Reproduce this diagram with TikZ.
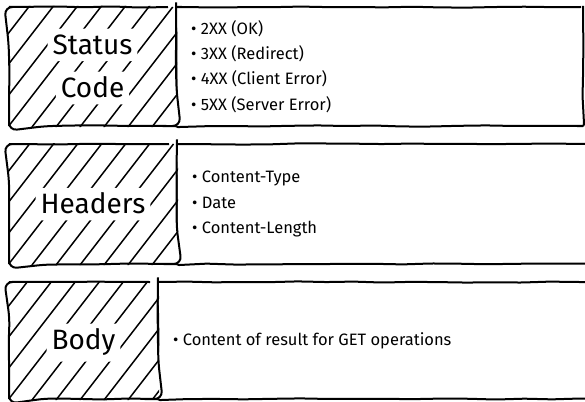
\documentclass[tikz,border=0pt]{standalone}
\usepackage{fontspec}
\setmainfont{Fira Sans}
\usetikzlibrary{decorations.pathmorphing}
\begin{document}
\begin{tikzpicture}[x=1pt,y=-1pt,
 sketch/.style={draw=black, line width=2pt, decorate, decoration={random steps, segment length=28pt, amplitude=0.6pt}, rounded corners=2pt},
 listbox/.style={sketch, anchor=north west, inner sep=0pt},
 titlebox/.style={sketch, fill=white, anchor=north west, inner sep=0pt, rounded corners=8pt},
 hatch/.style={line width=1.5pt, line cap=round, black},
 titletext/.style={fill=white, inner xsep=5pt, inner ysep=6pt, rounded corners=4pt, text height=20pt, text depth=0.5pt, font=\fontsize{28}{42}\selectfont},
 listtext/.style={anchor=west, align=left, inner sep=0pt, font=\fontsize{16.5}{25.3}\selectfont}
]
\pgfmathsetseed{7}
\clip (0,0) rectangle (585,401);
% row 1
\node[listbox, minimum width=407pt, minimum height=119pt] (r1) at (175,6) {};
\node[titlebox, minimum width=167pt, minimum height=119pt] (t1) at (8,6) {};
% row 2
\node[listbox, minimum width=430pt, minimum height=120pt] (r2) at (176,143) {};
\node[titlebox, minimum width=168pt, minimum height=120pt] (t2) at (8,143) {};
% row 3
\node[listbox, minimum width=450pt, minimum height=117pt] (r3) at (157,281) {};
\node[titlebox, minimum width=149pt, minimum height=117pt] (t3) at (8,281) {};
% hatching
\foreach \n in {t1,t2,t3}{
  \begin{scope}
    \clip[rounded corners=8pt] (\n.south west) rectangle (\n.north east);
    \foreach \k in {-9,...,8}{
      \draw[hatch] ([xshift=\k*24pt]\n.south west) -- ++(170pt,220pt);
    }
  \end{scope}
}
% titles
\node[titletext] (t1a) at ([yshift=21.5pt]t1.center) {Status};
\node[titletext] (t1b) at ([yshift=-21.5pt]t1.center) {Code};
\node[titletext] (t2l) at (t2.center) {Headers};
\node[titletext, text depth=6pt] (t3l) at ([yshift=-2pt]t3.center) {Body};
% lists
\node[listtext] (l1) at ([xshift=16pt]r1.west) {• 2XX (OK)\\• 3XX (Redirect)\\• 4XX (Client Error)\\• 5XX (Server Error)};
\node[listtext] (l2) at ([xshift=16pt]r2.west) {• Content-Type\\• Date\\• Content-Length};
\node[listtext] (l3) at ([xshift=16pt]r3.west) {• Content of result for GET operations};
\end{tikzpicture}
\end{document}
